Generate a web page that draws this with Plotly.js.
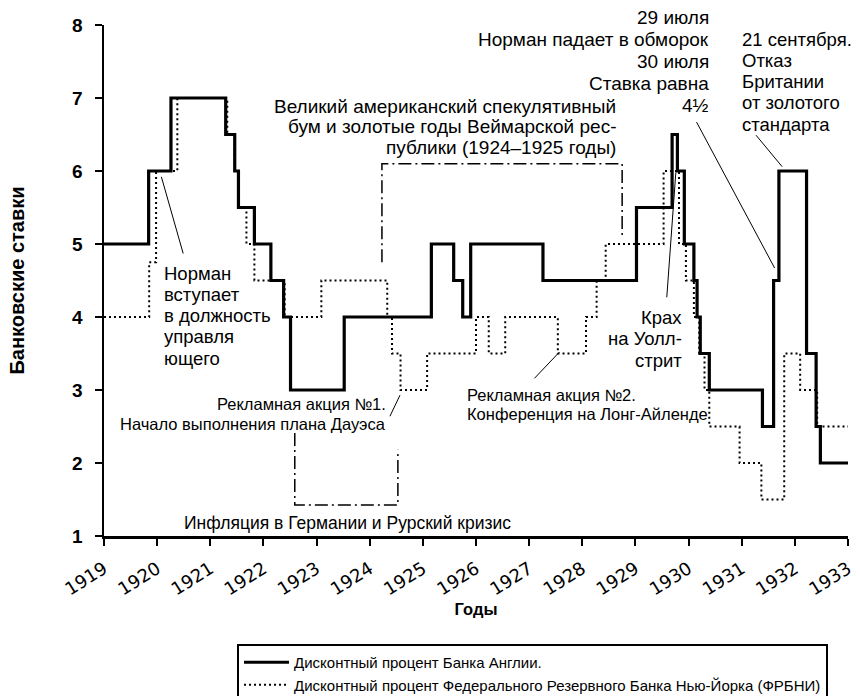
<!DOCTYPE html>
<html>
<head>
<meta charset="utf-8">
<script src="https://cdn.plot.ly/plotly-3.0.1.min.js"></script>
<style>html,body{margin:0;padding:0;background:#fff;}#chart{width:860px;height:696px;}</style>
</head>
<body>
<div id="chart"></div>
<script>
// Bank of England discount rate: dates of change (decimal years) and new rate
const boeDates = [1919.0, 1919.84, 1920.26, 1921.29, 1921.46, 1921.53, 1921.83, 1922.14, 1922.38, 1922.51, 1923.52, 1925.16, 1925.58, 1925.75, 1925.9, 1927.26, 1929.02, 1929.69, 1929.79, 1929.92, 1930.1, 1930.16, 1930.22, 1930.39, 1931.39, 1931.6, 1931.7, 1932.22, 1932.4, 1932.48, 1933.0];
const boeRates = [5, 6, 7, 6.5, 6, 5.5, 5, 4.5, 4, 3, 4, 5, 4.5, 4, 5, 4.5, 5.5, 6.5, 6, 5, 4.5, 4, 3.5, 3, 2.5, 4.5, 6, 3.5, 2.5, 2, 2];

// Federal Reserve Bank of New York discount rate
const fedDates = [1919.0, 1919.85, 1919.98, 1920.38, 1921.32, 1921.46, 1921.54, 1921.68, 1921.83, 1922.4, 1923.09, 1924.33, 1924.42, 1924.58, 1925.08, 1926.0, 1926.24, 1926.55, 1927.54, 1928.07, 1928.27, 1928.44, 1929.53, 1929.82, 1929.95, 1930.1, 1930.2, 1930.3, 1930.39, 1930.96, 1931.37, 1931.8, 1932.1, 1932.42, 1933.0];
const fedRates = [4, 4.75, 6, 7, 6.5, 6, 5.5, 5, 4.5, 4, 4.5, 4, 3.5, 3, 3.5, 4, 3.5, 4, 3.5, 4, 4.5, 5, 6, 5, 4.5, 4, 3.5, 3, 2.5, 2, 1.5, 3.5, 3, 2.5, 2.5];

const seriesNames = ["Дисконтный процент Банка Англии.", "Дисконтный процент Федерального Резервного Банка Нью-Йорка (ФРБНИ)"];
const yearTicks = [1919, 1920, 1921, 1922, 1923, 1924, 1925, 1926, 1927, 1928, 1929, 1930, 1931, 1932, 1933];

// Highlighted periods (years) and their bracket heights (rates)
const boomPeriod = [1924.23, 1928.75];
const boomBracket = [4.75, 6.1, 5.1];
const inflationPeriod = [1922.59, 1924.53];
const inflationBracket = [2.41, 1.425, 2.18];

const FONT = "Liberation Sans, Arial, sans-serif";

// plot-area geometry used only to place text labels (paper units)
const PLOT = {top: 25, bottom: 536};
const pyToPaper = py => (PLOT.bottom - py) / (PLOT.bottom - PLOT.top);

const traces = [
  {x: boeDates, y: boeRates, name: seriesNames[0], mode: "lines", line: {shape: "hv", color: "#000", width: 3.2}},
  {x: fedDates, y: fedRates, name: seriesNames[1], mode: "lines", line: {shape: "hv", color: "#000", width: 2, dash: "2px,3px"}}
];

const dashBox = "13px,4px,2px,4px";
const shapes = [
  {type: "path", xref: "x", yref: "y",
   path: `M ${boomPeriod[0]},${boomBracket[0]} L ${boomPeriod[0]},${boomBracket[1]} L ${boomPeriod[1]},${boomBracket[1]} L ${boomPeriod[1]},${boomBracket[2]}`,
   line: {color: "#000", width: 1.5, dash: dashBox}},
  {type: "path", xref: "x", yref: "y",
   path: `M ${inflationPeriod[0]},${inflationBracket[0]} L ${inflationPeriod[0]},${inflationBracket[1]} L ${inflationPeriod[1]},${inflationBracket[1]} L ${inflationPeriod[1]},${inflationBracket[2]}`,
   line: {color: "#000", width: 1.5, dash: dashBox}},
  // pointer lines
  {type: "line", xref: "x", yref: "y", x0: 1920.08, y0: 5.92, x1: 1920.49, y1: 4.87, line: {color: "#000", width: 1}},
  {type: "line", xref: "x", yref: "y", x0: 1924.57, y0: 2.93, x1: 1924.38, y1: 2.64, line: {color: "#000", width: 1}},
  {type: "line", xref: "x", yref: "y", x0: 1927.57, y0: 3.52, x1: 1927.10, y1: 3.16, line: {color: "#000", width: 1}},
  {type: "line", xref: "x", yref: "y", x0: 1929.76, y0: 5.98, x1: 1929.59, y1: 4.27, line: {color: "#000", width: 1}},
  {type: "line", xref: "x", yref: "y", x0: 1930.15, y0: 6.67, x1: 1931.62, y1: 4.67, line: {color: "#000", width: 1}},
  {type: "line", xref: "x", yref: "y", x0: 1931.27, y0: 6.49, x1: 1931.76, y1: 6.06, line: {color: "#000", width: 1}}
];

// one annotation per text line: lines, anchor year, first line centre (px), line step (px)
function block(lines, x, firstPy, step, xanchor, size) {
  return lines.map((t, i) => ({
    text: t, x: x, y: pyToPaper(firstPy + i * step), xref: "x", yref: "paper",
    xanchor: xanchor, yanchor: "middle", showarrow: false,
    font: {family: FONT, size: size, color: "#000"}
  }));
}

const annotations = [].concat(
  block(["Норман", "вступает", "в должность", "управля", "ющего"], 1920.1, 273, 21.3, "left", 18.5),
  block(["Рекламная акция №1.", "Начало выполнения плана Дауэса"], 1924.34, 404, 19.5, "right", 16.5),
  block(["Рекламная акция №2.", "Конференция на Лонг-Айленде"], 1925.8, 395, 18.5, "left", 16.5),
  block(["Крах", "на Уолл-", "стрит"], 1929.91, 317, 21.5, "right", 18.5),
  block(["29 июля", "Норман падает в обморок", "30 июля", "Ставка равна", "4½"], 1930.42, 17, 22, "right", 19),
  block(["21 сентября.", "Отказ", "Британии", "от золотого", "стандарта"], 1930.96, 39, 21.3, "left", 18.5),
  block(["Великий американский спекулятивный", "бум и золотые годы Веймарской рес-", "публики (1924–1925 годы)"], 1928.68, 106, 20.5, "right", 19),
  block(["Инфляция в Германии и Рурский кризис"], 1923.59, 523, 0, "center", 17.5)
);

const layout = {
  width: 860, height: 696,
  margin: {l: 104, r: 12, t: 25, b: 160},
  paper_bgcolor: "#fff", plot_bgcolor: "#fff",
  font: {family: FONT, color: "#000"},
  showlegend: true,
  legend: {xref: "paper", yref: "container", x: 0.1788, y: 1 - 644/696, xanchor: "left", yanchor: "top",
           bordercolor: "#000", borderwidth: 2, bgcolor: "#fff", itemwidth: 45,
           font: {family: FONT, size: 15, color: "#000"}, tracegroupgap: 0},
  xaxis: {range: [1919, 1933], tickvals: yearTicks, ticktext: yearTicks.map(String), tickangle: -32,
          showline: true, linecolor: "#000", linewidth: 2.5, ticks: "outside", ticklen: 7, tickwidth: 2, tickcolor: "#000",
          showgrid: false, zeroline: false, automargin: false, ticklabelstandoff: 6,
          tickfont: {family: "DejaVu Sans, sans-serif", size: 18, color: "#000"},
          title: {text: "Годы", font: {family: FONT, size: 16.5, color: "#000", weight: "bold"}, standoff: 5}},
  yaxis: {range: [1, 8], dtick: 1, showline: true, linecolor: "#000", linewidth: 2.5, ticks: "outside", ticklen: 7, tickwidth: 2, tickcolor: "#000",
          showgrid: false, zeroline: false, automargin: false, ticklabelstandoff: 8,
          tickfont: {family: FONT, size: 19, color: "#000", weight: "bold"},
          title: {text: "Банковские ставки", font: {family: FONT, size: 20, color: "#000", weight: "bold"}, standoff: 42}},
  shapes: shapes,
  annotations: annotations
};

Plotly.newPlot("chart", traces, layout, {displayModeBar: false, staticPlot: true});
</script>
</body>
</html>
